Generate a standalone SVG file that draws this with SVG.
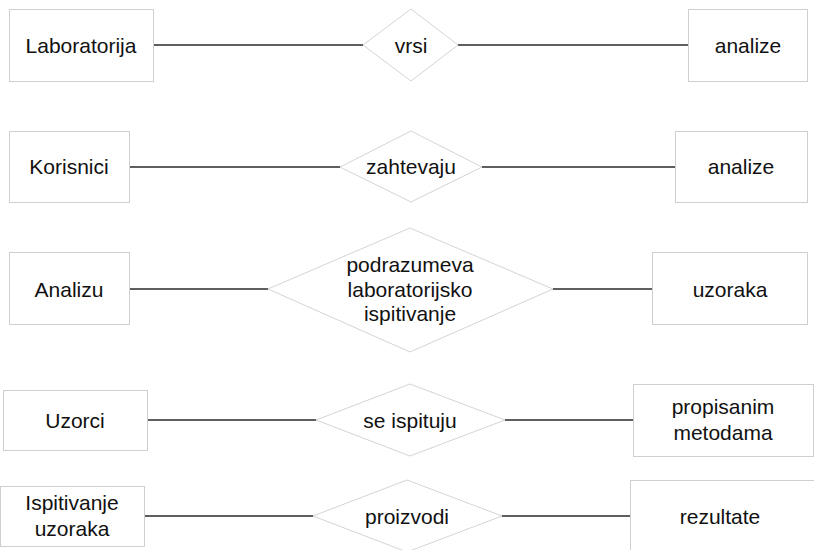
<svg xmlns="http://www.w3.org/2000/svg" width="814" height="550" viewBox="0 0 814 550">
<style>
.ent{fill:#fff;stroke:#cfcfcf;stroke-width:1}
.rel{fill:#fff;stroke:#d4d4d4;stroke-width:1}
.con{stroke:#2a2a2a;stroke-width:1.3;fill:none}
text{font-family:"Liberation Sans",Arial,sans-serif;font-size:21px;fill:#111;text-anchor:middle}
</style>
<rect width="814" height="550" fill="#fff"/>
<g id="connectors">
<line class="con" x1="153" y1="45" x2="363" y2="45"/>
<line class="con" x1="458" y1="45" x2="688" y2="45"/>
<line class="con" x1="129" y1="167" x2="340" y2="167"/>
<line class="con" x1="482" y1="167" x2="675" y2="167"/>
<line class="con" x1="129" y1="289" x2="268" y2="289"/>
<line class="con" x1="553" y1="289" x2="652" y2="289"/>
<line class="con" x1="147" y1="420" x2="316" y2="420"/>
<line class="con" x1="505" y1="420" x2="633" y2="420"/>
<line class="con" x1="144" y1="516" x2="313" y2="516"/>
<line class="con" x1="502" y1="516" x2="630" y2="516"/>
</g>
<g id="laboratorija"><rect class="ent" x="9.5" y="9.5" width="144" height="72"/><text x="81" y="53">Laboratorija</text></g>
<g id="vrsi"><polygon class="rel" points="363,45 411,9 458,45 411,81"/><text x="411" y="53">vrsi</text></g>
<g id="analize1"><rect class="ent" x="688.5" y="9.5" width="119" height="72"/><text x="748" y="53">analize</text></g>
<g id="korisnici"><rect class="ent" x="9.5" y="131.5" width="120" height="71"/><text x="69" y="174">Korisnici</text></g>
<g id="zahtevaju"><polygon class="rel" points="340,167 411,131 482,167 411,202"/><text x="411" y="174">zahtevaju</text></g>
<g id="analize2"><rect class="ent" x="675.5" y="131.5" width="132" height="71"/><text x="741" y="174">analize</text></g>
<g id="analizu"><rect class="ent" x="9.5" y="252.5" width="120" height="72"/><text x="69" y="296.5">Analizu</text></g>
<g id="podrazumeva"><polygon class="rel" points="268,289 410,228 553,289 410,352"/><text x="410" y="272">podrazumeva</text><text x="410" y="296.5">laboratorijsko</text><text x="410" y="321">ispitivanje</text></g>
<g id="uzoraka"><rect class="ent" x="652.5" y="252.5" width="155" height="72"/><text x="730" y="296.5">uzoraka</text></g>
<g id="uzorci"><rect class="ent" x="3.5" y="390.5" width="144" height="60"/><text x="75" y="427.5">Uzorci</text></g>
<g id="se_ispituju"><polygon class="rel" points="316,420 410,384 505,420 410,456"/><text x="410" y="427.5">se ispituju</text></g>
<g id="propisanim_metodama"><rect class="ent" x="633.5" y="384.5" width="180" height="72"/><text x="723" y="414">propisanim</text><text x="723" y="440">metodama</text></g>
<g id="ispitivanje_uzoraka"><rect class="ent" x="0.5" y="486.5" width="144" height="60"/><text x="72" y="510">Ispitivanje</text><text x="72" y="536">uzoraka</text></g>
<g id="proizvodi"><polygon class="rel" points="313,516 407,480 502,516 407,552"/><text x="407" y="523.5">proizvodi</text></g>
<g id="rezultate"><rect class="ent" x="630.5" y="480.5" width="190" height="80"/><text x="720" y="523.5">rezultate</text></g>
</svg>
